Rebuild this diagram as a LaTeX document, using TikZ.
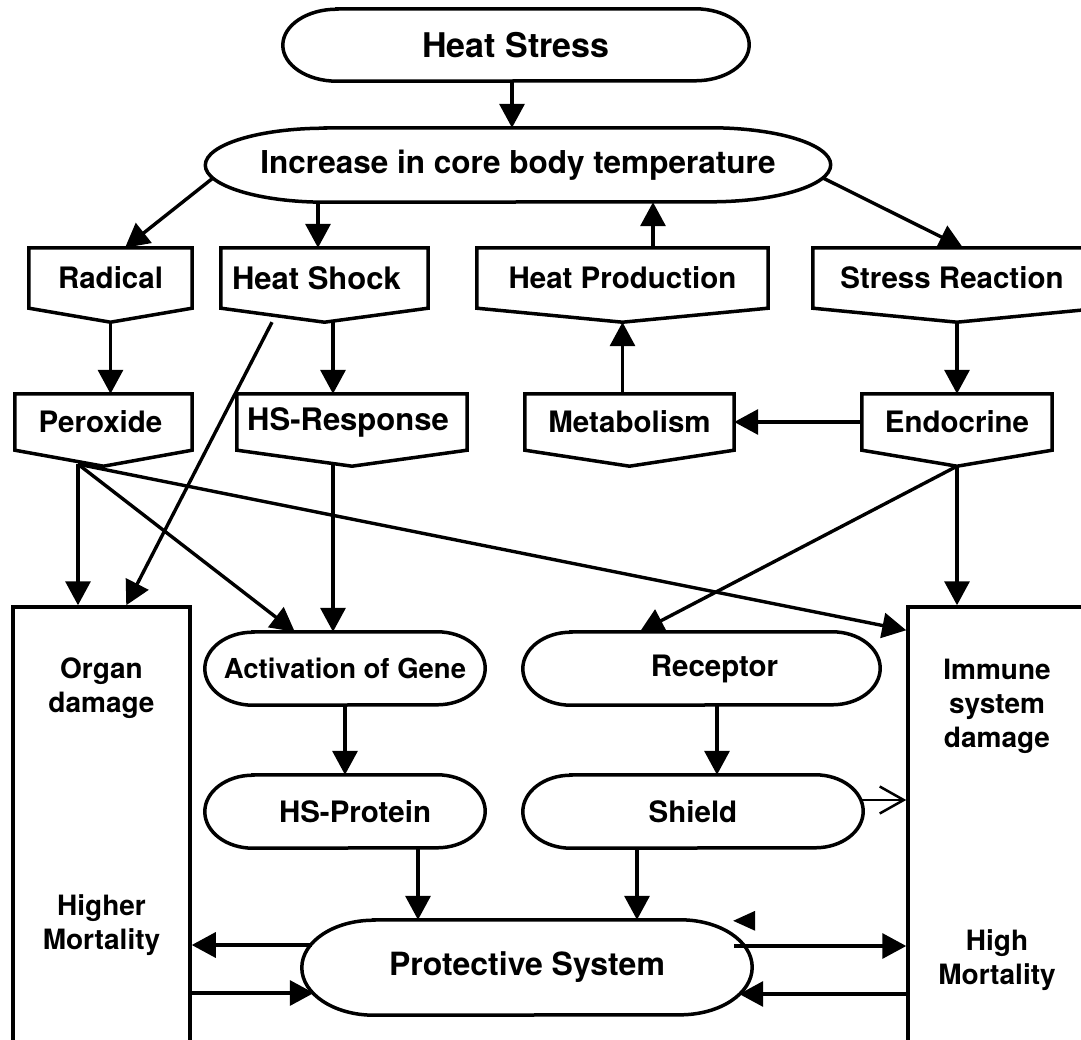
\documentclass[tikz,border=0pt]{standalone}
\usepackage{fontspec}
\setmainfont{TeX Gyre Heros}
\usetikzlibrary{arrows.meta,calc}

\newcommand\pillpath[3]{%
  \draw[box] ($(#1.north west)+(#2,0)$) -- ($(#1.north east)+(-#2,0)$)
    arc[start angle=90,end angle=-90,x radius=#2pt,y radius=#3pt]
    -- ($(#1.south west)+(#2,0)$)
    arc[start angle=270,end angle=90,x radius=#2pt,y radius=#3pt] -- cycle;}
\newcommand\pentpath[2]{%
  \coordinate (#1-tip) at ($(#1.south)+(0,#2)$);
  \draw[box] (#1.south west) -- (#1.north west) -- (#1.north east) -- (#1.south east) -- (#1-tip) -- cycle;}
\newcommand\shifted[2]{\hspace*{#1}#2}

\begin{document}
\begin{tikzpicture}[x=1pt,y=-1pt,
  lbl/.style={font=\fontsize{28}{34}\selectfont\bfseries, align=center, inner sep=0pt},
  big/.style={font=\fontsize{29.5}{34}\selectfont\bfseries},
  bigger/.style={font=\fontsize{31}{36}\selectfont\bfseries},
  frame/.style={lbl, draw=none},
  box/.style={draw, line width=3.5pt},
  arr/.style={line width=3.4pt, -{Triangle[length=24pt,width=25pt]}},
  openarr/.style={line width=2.5pt, -{Straight Barb[length=24pt,width=27pt,line width=2.5pt]}}]
\useasboundingbox (0,0) rectangle (1081,1040);
\fill[white] (0,0) rectangle (1081,1040);
\clip (0,0) rectangle (1081,1040);

% top ovals
\node[frame, font=\fontsize{34}{40}\selectfont\bfseries, minimum width=466pt, minimum height=72pt] (hs) at (516,45) {Heat Stress};
\pillpath{hs}{54}{36}
\node[frame, font=\fontsize{31.5}{36}\selectfont\bfseries, minimum width=625pt, minimum height=74pt] (inc) at (518,165) {Increase in core body temperature};
\pillpath{inc}{120}{37}

% pentagon row 1
\node[frame, big, minimum width=163pt, minimum height=60pt] (rad) at (110.5,278) {Radical};
\pentpath{rad}{14}
\node[frame, bigger, minimum width=207pt, minimum height=60pt] (hshock) at (324.5,278) {\shifted{-16pt}{Heat Shock}};
\pentpath{hshock}{14}
\node[frame, big, minimum width=291pt, minimum height=60pt] (hprod) at (622.5,278) {Heat Production};
\pentpath{hprod}{14}
\node[frame, big, minimum width=288pt, minimum height=60pt] (stress) at (957,278) {\shifted{-10pt}{Stress Reaction}};
\pentpath{stress}{14}

% pentagon row 2
\node[frame, big, minimum width=177pt, minimum height=56pt] (perox) at (103.5,422) {\shifted{-6pt}{Peroxide}};
\pentpath{perox}{16}
\node[frame, bigger, minimum width=230pt, minimum height=56pt] (hsresp) at (352,422) {\shifted{-8pt}{HS-Response}};
\pentpath{hsresp}{16}
\node[frame, big, minimum width=209pt, minimum height=56pt] (metab) at (629.5,422) {Metabolism};
\pentpath{metab}{16}
\node[frame, big, minimum width=190pt, minimum height=56pt] (endo) at (957,422) {Endocrine};
\pentpath{endo}{16}

% big side boxes
\node[box, minimum width=177pt, minimum height=443pt, inner sep=0pt] (organ) at (101.5,828.5) {};
\node[box, minimum width=192pt, minimum height=443pt, inner sep=0pt] (immune) at (1004,828.5) {};
\node[lbl] (organtxt) at (101.5,688) {Organ\\damage};
\node[lbl] (highertxt) at (101.5,925) {Higher\\Mortality};
\node[lbl] (immunetxt) at (997,706) {Immune\\system\\damage};
\node[lbl] (hightxt) at (997,960) {High\\Mortality};

% pills
\node[frame, font=\fontsize{27.5}{32}\selectfont\bfseries, minimum width=280pt, minimum height=73pt] (act) at (345,668.5) {Activation of Gene};
\pillpath{act}{48}{36.5}
\node[frame, big, minimum width=357pt, minimum height=73pt] (rec) at (701.5,668.5) {\shifted{26pt}{Receptor}};
\pillpath{rec}{48}{36.5}
\node[frame, big, minimum width=280pt, minimum height=73pt] (hsp) at (345,811.5) {\shifted{20pt}{HS-Protein}};
\pillpath{hsp}{48}{36.5}
\node[frame, big, minimum width=340pt, minimum height=73pt] (shield) at (693,811.5) {Shield};
\pillpath{shield}{48}{36.5}
\node[frame, font=\fontsize{32}{38}\selectfont\bfseries, minimum width=450pt, minimum height=95pt] (prot) at (527,967.5) {Protective System};
\pillpath{prot}{72}{47.5}

% helper coordinates
\coordinate (hshock-o) at ($(hshock-tip)+(8.5,-1)$);
\coordinate (hshock-l) at ($(hshock-tip)+(-52.5,0)$);
\coordinate (perox-o) at ($(perox-tip)+(-25.5,-2)$);
\coordinate (hsresp-o) at ($(hsresp-tip)+(-19,-2.6)$);
\coordinate (shield-o) at ($(shield.east)+(-2,-11.5)$);
\coordinate (prot-lo) at ($(prot.west)+(10,-22.5)$);
\coordinate (prot-li) at ($(prot.west)+(12,25.5)$);
\coordinate (prot-ro) at ($(prot.east)+(-18,-21.5)$);
\coordinate (prot-ri) at ($(prot.east)+(-13,26.5)$);

% connectors
\draw[arr] ([xshift=-4pt]hs.south) -- ([xshift=-4pt]hs.south |- inc.north);
\draw[arr] ($(inc.center)+(-305,13)$) -- ($(rad.north)+(14.5,0)$);
\draw[arr] ([xshift=-6.5pt]hshock.north |- inc.south) -- ([xshift=-6.5pt]hshock.north);
\draw[arr] ([xshift=30.5pt]hprod.north) -- ([xshift=30.5pt]hprod.north |- inc.south);
\draw[arr] ($(inc.center)+(305,13)$) -- ($(stress.north)+(6,0)$);

\draw[arr] (rad-tip) -- (rad-tip |- perox.north);
\draw[arr] (hshock-o) -- (hshock-o |- hsresp.north);
\draw[arr] (hprod-tip |- metab.north) -- (hprod-tip);
\draw[arr] (stress-tip) -- (stress-tip |- endo.north);
\draw[arr] (endo.west) -- (metab.east);

\draw[arr] (perox-o) -- (perox-o |- organ.north);
\draw[arr] (perox-o) -- ($(act.north west)+(90,0)$);
\draw[arr] (perox-o) -- ($(immune.north west)+(0,25)$);
\draw[arr] (hshock-l) -- ($(organ.north west)+(115,0)$);
\draw[arr] (hsresp-o) -- (hsresp-o |- act.north);
\draw[arr] (endo-tip) -- ($(rec.north west)+(117,0)$);
\draw[arr] (endo-tip) -- (endo-tip |- immune.north);

\draw[arr] (act.south) -- (hsp.north);
\draw[arr] ([xshift=15.5pt]rec.south) -- ([xshift=15.5pt]rec.south |- shield.north);
\draw[openarr] (shield-o) -- (shield-o -| immune.west);
\draw[arr] ([xshift=73pt]hsp.south) -- ([xshift=73pt]hsp.south |- prot.north);
\draw[arr] ([xshift=-56pt]shield.south) -- ([xshift=-56pt]shield.south |- prot.north);

\draw[arr] (prot-lo) -- (prot-lo -| organ.east);
\draw[arr] (prot-li -| organ.east) -- (prot-li);
\draw[arr] (prot-ro) -- (prot-ro -| immune.west);
\draw[arr] (prot-ri -| immune.west) -- (prot-ri);
\fill ($(prot.north east)+(-19,1)$) -- ($(prot.north east)+(3,-9)$) -- ($(prot.north east)+(3,11)$) -- cycle;
\end{tikzpicture}
\end{document}
